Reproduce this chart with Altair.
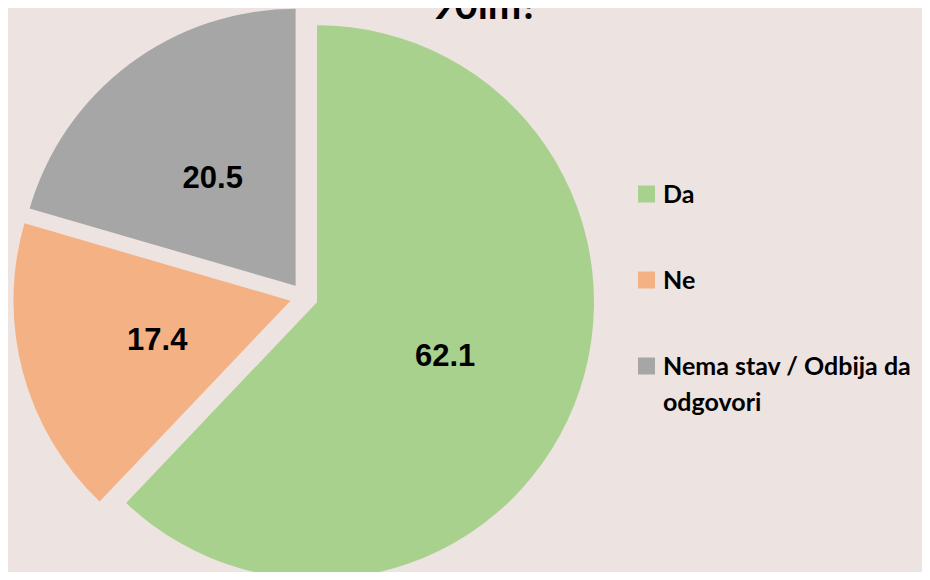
import altair as alt
import pandas as pd

categories = ["Da", "Ne", "Nema stav / Odbija da odgovori"]
legend_labels = ["Da", "Ne", "Nema stav / Odbija da\nodgovori"]
values = [62.1, 17.4, 20.5]
colors = ["#a9d18e", "#f4b183", "#a6a6a6"]
title_text = ["90im?"]

CX, CY = 296, 289   # pie centre (chart px)
D = 14              # explode distance
R = 277             # radius
LR = 138            # label radius
LEG_Y0, LEG_STEP = 186, 86   # legend first row centre and row step (chart px)

df = pd.DataFrame({"category": categories, "label": legend_labels,
                   "value": values, "order": range(len(values))})

color_enc = alt.Color(
    "category:N",
    sort=categories,
    scale=alt.Scale(domain=categories, range=colors),
    legend=None,
)

base = alt.Chart(df).transform_joinaggregate(
    total="sum(value)"
).transform_window(
    cum="sum(value)", sort=[alt.SortField("order")], frame=[None, 0]
).transform_calculate(
    start="2*PI*(datum.cum - datum.value)/datum.total",
    end="2*PI*datum.cum/datum.total",
).transform_calculate(
    mid="(datum.start + datum.end)/2"
).transform_calculate(
    px=f"{CX} + {D}*sin(datum.mid)",
    py=f"{CY} - {D}*cos(datum.mid)",
)

arcs = base.mark_arc(radius=R).encode(
    x=alt.X("px:Q", scale=None),
    y=alt.Y("py:Q", scale=None),
    theta=alt.Theta("start:Q", scale=None, stack=None),
    theta2="end:Q",
    color=color_enc,
)

labels = base.mark_text(
    radius=LR, font="Liberation Sans", fontWeight="bold", fontSize=31,
    color="#000000", align="center", baseline="middle", dy=4
).encode(
    x=alt.X("px:Q", scale=None),
    y=alt.Y("py:Q", scale=None),
    theta=alt.Theta("mid:Q", scale=None, stack=None),
    text=alt.Text("value:Q", format=".1f"),
)

leg_base = alt.Chart(df).transform_calculate(
    ly=f"{LEG_Y0} + {LEG_STEP}*datum.order"
)
leg_sym = leg_base.mark_square(size=289, opacity=1).encode(
    x=alt.value(638.5), y=alt.Y("ly:Q", scale=None), color=color_enc,
)
leg_txt = leg_base.mark_text(
    font="Lato", fontWeight="bold", fontSize=25, color="#000000",
    align="left", baseline="alphabetic", dy=9, lineBreak="\n", lineHeight=36,
).encode(
    x=alt.value(655), y=alt.Y("ly:Q", scale=None), text="label:N",
)

title = alt.Chart(pd.DataFrame({"t": title_text})).mark_text(
    font="Lato", fontWeight="bold", fontSize=40,
    align="center", baseline="alphabetic", color="#000000"
).encode(
    x=alt.value(477), y=alt.value(11), text="t:N"
)

chart = alt.layer(arcs, labels, leg_sym, leg_txt, title).properties(
    width=914, height=564,
    background="#ede3e1",
    padding=0,
    autosize=alt.AutoSizeParams(type="none"),
).configure_view(stroke=None)

chart.save("out.html", embed_options={"renderer": "svg", "actions": False})
